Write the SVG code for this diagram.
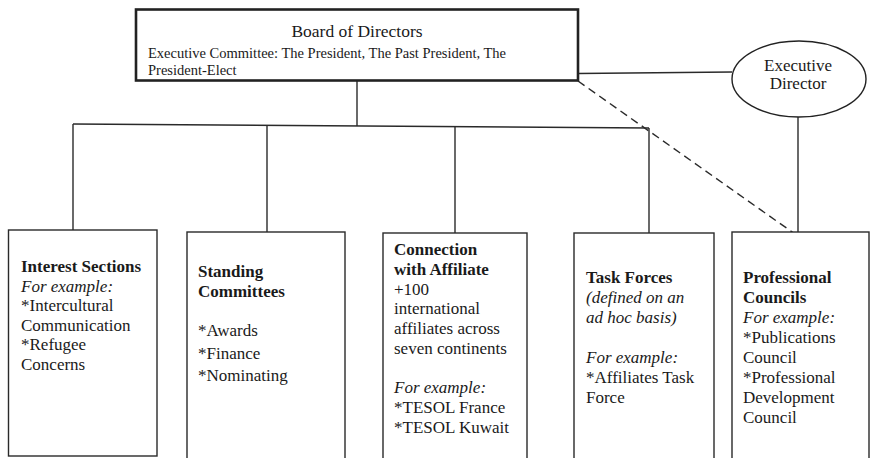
<svg xmlns="http://www.w3.org/2000/svg" width="873" height="458" viewBox="0 0 873 458">
<style>
  text { fill: #1a1a1a; }
  .t { font-size: 17px; }
  .s { font-size: 14.5px; }
  .h { font-size: 17.5px; }
  .b { font-weight: bold; }
  .i { font-style: italic; }
  .box { fill: #fff; stroke: #2a2a2a; stroke-width: 1.4; }
  .conn { stroke: #2a2a2a; stroke-width: 1.4; fill: none; }
</style>
<rect width="873" height="458" fill="#fff"/>
<g id="connectors">
  <line class="conn" x1="357" y1="81" x2="357" y2="126"/>
  <line class="conn" x1="73" y1="124" x2="649" y2="128"/>
  <line class="conn" x1="73" y1="124" x2="73" y2="230"/>
  <line class="conn" x1="267" y1="125" x2="267" y2="232"/>
  <line class="conn" x1="455" y1="126" x2="455" y2="233"/>
  <line class="conn" x1="649" y1="128" x2="649" y2="233"/>
  <line class="conn" x1="578" y1="73.5" x2="732" y2="72"/>
  <line class="conn" x1="798" y1="117" x2="798" y2="234"/>
  <line class="conn" x1="578" y1="81" x2="795" y2="234" stroke-dasharray="8,5"/>
</g>
<g font-family="'Liberation Serif', 'DejaVu Serif', serif">
<g id="board">
  <rect x="136" y="9.5" width="442" height="71" fill="#fff" stroke="#222" stroke-width="2.6"/>
  <text class="h" x="357" y="37" text-anchor="middle">Board of Directors</text>
  <text class="s" x="148" y="58">Executive Committee: The President, The Past President, The</text>
  <text class="s" x="148" y="75">President-Elect</text>
</g>
<g id="executive-director">
  <ellipse cx="799" cy="79" rx="67" ry="38" fill="#fff" stroke="#222" stroke-width="1.4"/>
  <text class="t" x="798" y="71" text-anchor="middle">Executive</text>
  <text class="t" x="798" y="89" text-anchor="middle">Director</text>
</g>
<g id="interest-sections">
  <rect class="box" x="8.5" y="230" width="148.5" height="226"/>
  <text class="t b" x="21" y="272">Interest Sections</text>
  <text class="t i" x="21" y="291.5">For example:</text>
  <text class="t" x="21" y="311">*Intercultural</text>
  <text class="t" x="21" y="330.5">Communication</text>
  <text class="t" x="21" y="350">*Refugee</text>
  <text class="t" x="21" y="369.5">Concerns</text>
</g>
<g id="standing-committees">
  <rect class="box" x="187" y="232" width="158" height="240"/>
  <text class="t b" x="198" y="277">Standing</text>
  <text class="t b" x="198" y="297">Committees</text>
  <text class="t" x="198" y="336">*Awards</text>
  <text class="t" x="198" y="358.5">*Finance</text>
  <text class="t" x="198" y="381">*Nominating</text>
</g>
<g id="connection-with-affiliate">
  <rect class="box" x="383" y="233" width="144" height="240"/>
  <text class="t b" x="394" y="255">Connection</text>
  <text class="t b" x="394" y="274.75">with Affiliate</text>
  <text class="t" x="394" y="294.5">+100</text>
  <text class="t" x="394" y="314.25">international</text>
  <text class="t" x="394" y="334">affiliates across</text>
  <text class="t" x="394" y="353.75">seven continents</text>
  <text class="t i" x="394" y="393">For example:</text>
  <text class="t" x="394" y="413">*TESOL France</text>
  <text class="t" x="394" y="433">*TESOL Kuwait</text>
</g>
<g id="task-forces">
  <rect class="box" x="574" y="233" width="140" height="240"/>
  <text class="t b" x="586" y="283">Task Forces</text>
  <text class="t i" x="586" y="302.8">(defined on an</text>
  <text class="t i" x="586" y="322.6">ad hoc basis)</text>
  <text class="t i" x="586" y="363">For example:</text>
  <text class="t" x="586" y="383">*Affiliates Task</text>
  <text class="t" x="586" y="403">Force</text>
</g>
<g id="professional-councils">
  <rect class="box" x="732" y="232" width="137" height="240"/>
  <text class="t b" x="743" y="283">Professional</text>
  <text class="t b" x="743" y="303">Councils</text>
  <text class="t i" x="743" y="323">For example:</text>
  <text class="t" x="743" y="343">*Publications</text>
  <text class="t" x="743" y="363">Council</text>
  <text class="t" x="743" y="383">*Professional</text>
  <text class="t" x="743" y="403">Development</text>
  <text class="t" x="743" y="423">Council</text>
</g>
</g>
</svg>
